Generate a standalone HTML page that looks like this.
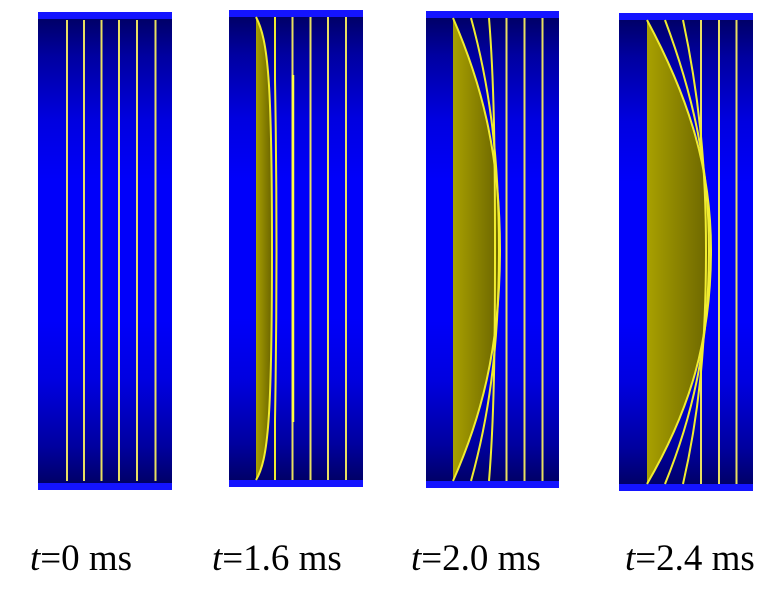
<!DOCTYPE html>
<html><head><style>
body{margin:0;background:#fff;width:768px;height:603px;overflow:hidden;position:relative}
.l{position:absolute;top:537px;font-family:"Liberation Serif",serif;font-size:37px;color:#000;white-space:nowrap}
</style></head><body>
<svg width="768" height="603" style="position:absolute;left:0;top:0">
<defs>
<linearGradient id="g" x1="0" y1="0" x2="0" y2="1">
<stop offset="0" stop-color="#000068"/><stop offset="0.08" stop-color="#0000a0"/>
<stop offset="0.22" stop-color="#0000e0"/><stop offset="0.35" stop-color="#0000fa"/>
<stop offset="0.65" stop-color="#0000fa"/><stop offset="0.78" stop-color="#0000e0"/>
<stop offset="0.92" stop-color="#0000a0"/><stop offset="1" stop-color="#000068"/></linearGradient>
<linearGradient id="y" x1="0" y1="0" x2="1" y2="0">
<stop offset="0" stop-color="#a8a000"/><stop offset="1" stop-color="#6a6400"/></linearGradient>
</defs>
<g fill="#1414ff">
<rect x="38" y="12" width="134" height="478"/><rect x="229" y="10" width="134" height="477"/>
<rect x="426" y="11" width="133" height="477"/><rect x="619" y="13" width="134" height="478"/>
</g>
<g fill="url(#g)">
<rect x="38" y="19" width="134" height="464"/><rect x="229" y="17" width="134" height="463"/>
<rect x="426" y="18" width="133" height="463"/><rect x="619" y="20" width="134" height="464"/>
</g>
<g stroke="#e8e060" stroke-width="2">
<line x1="67" y1="20" x2="67" y2="481"/><line x1="84" y1="20" x2="84" y2="481"/>
<line x1="101.5" y1="20" x2="101.5" y2="481"/><line x1="119" y1="20" x2="119" y2="481"/>
<line x1="137" y1="20" x2="137" y2="481"/><line x1="155.5" y1="20" x2="155.5" y2="481"/>
<line x1="292.5" y1="17" x2="292.5" y2="480"/><line x1="310.5" y1="17" x2="310.5" y2="480"/>
<line x1="328" y1="17" x2="328" y2="480"/><line x1="346" y1="17" x2="346" y2="480"/>
<line x1="506.5" y1="18" x2="506.5" y2="481"/><line x1="524.5" y1="18" x2="524.5" y2="481"/>
<line x1="542.5" y1="18" x2="542.5" y2="481"/>
<line x1="701" y1="20" x2="701" y2="484"/><line x1="719" y1="20" x2="719" y2="484"/>
<line x1="736.5" y1="20" x2="736.5" y2="484"/>
</g>
<path d="M256,17 C268,40 272,80 272,248 C272,420 268,460 256,480 Z" fill="url(#y)"/>
<g fill="none" stroke="#f0ec30" stroke-width="2">
<path d="M256,17 C268,40 272,80 272,248 C272,420 268,460 256,480"/>
<path d="M275,17 L275,80 Q278,248 275,420 L275,480"/>
</g>
<line x1="293" y1="75" x2="293" y2="422" stroke="#ffff40" stroke-width="2.5"/>
<path d="M453,18 C480,80 500,150 500,250 C500,350 480,420 453,481 Z" fill="url(#y)"/>
<g fill="none" stroke="#f0ec30" stroke-width="2">
<path d="M453,18 C480,80 500,150 500,250 C500,350 480,420 453,481"/>
<path d="M471,18 C488,80 499,150 499,250 C499,350 488,420 471,481"/>
<path d="M489,18 C494,80 495,150 495,250 C495,350 494,420 489,481"/>
</g>
<path d="M647,20 C690,100 711,170 711,250 C711,340 690,410 647,484 Z" fill="url(#y)"/>
<g fill="none" stroke="#f0ec30" stroke-width="2">
<path d="M647,20 C690,100 711,170 711,250 C711,340 690,410 647,484"/>
<path d="M665,20 C695,100 709,170 709,250 C709,340 695,410 665,484"/>
<path d="M683,20 C700,100 706,170 706,250 C706,340 700,410 683,484"/>
</g>
</svg>
<div class="l" style="left:30px"><i>t</i>=0 ms</div>
<div class="l" style="left:212px"><i>t</i>=1.6 ms</div>
<div class="l" style="left:411px"><i>t</i>=2.0 ms</div>
<div class="l" style="left:625px"><i>t</i>=2.4 ms</div>
</body></html>
